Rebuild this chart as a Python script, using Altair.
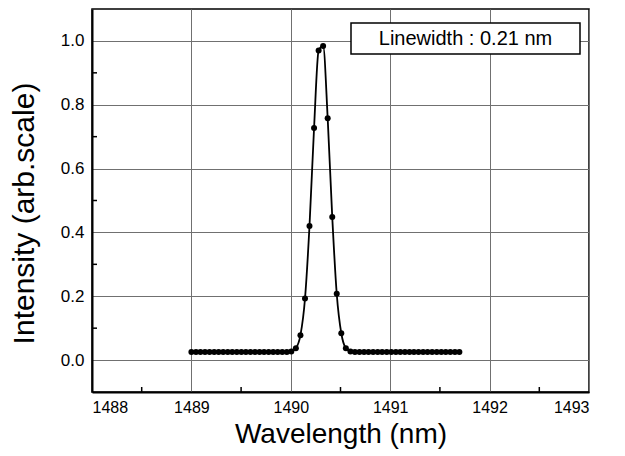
import altair as alt
import pandas as pd

wavelength = [
    1489.000, 1489.046, 1489.091, 1489.137, 1489.183, 1489.229, 1489.274, 1489.320,
    1489.366, 1489.411, 1489.457, 1489.503, 1489.548, 1489.594, 1489.640, 1489.686,
    1489.731, 1489.777, 1489.823, 1489.868, 1489.914, 1489.960, 1490.005, 1490.051,
    1490.097, 1490.143, 1490.188, 1490.234, 1490.280, 1490.325, 1490.371, 1490.417,
    1490.462, 1490.508, 1490.554, 1490.600, 1490.645, 1490.691, 1490.737, 1490.782,
    1490.828, 1490.874, 1490.919, 1490.965, 1491.011, 1491.057, 1491.102, 1491.148,
    1491.194, 1491.239, 1491.285, 1491.331, 1491.376, 1491.422, 1491.468, 1491.514,
    1491.559, 1491.605, 1491.651, 1491.696,
]
intensity = [
    0.025, 0.025, 0.025, 0.025, 0.025, 0.025, 0.025, 0.025,
    0.025, 0.025, 0.025, 0.025, 0.025, 0.025, 0.025, 0.025,
    0.025, 0.025, 0.025, 0.025, 0.025, 0.025, 0.027, 0.037,
    0.078, 0.193, 0.420, 0.727, 0.970, 0.984, 0.758, 0.448,
    0.208, 0.084, 0.037, 0.027, 0.025, 0.025, 0.025, 0.025,
    0.025, 0.025, 0.025, 0.025, 0.025, 0.025, 0.025, 0.025,
    0.025, 0.025, 0.025, 0.025, 0.025, 0.025, 0.025, 0.025,
    0.025, 0.025, 0.025, 0.025,
]
x_ticks = [1488, 1489, 1490, 1491, 1492, 1493]
y_ticks = [0.0, 0.2, 0.4, 0.6, 0.8, 1.0]
x_minor = [1488.5, 1489.5, 1490.5, 1491.5, 1492.5]
y_minor = [0.1, 0.3, 0.5, 0.7, 0.9]
label_text = ["Linewidth : 0.21 nm"]

FONT = "Liberation Sans"

df = pd.DataFrame({"wavelength": wavelength, "intensity": intensity})

xs = alt.Scale(domain=[1488, 1493], nice=False, zero=False)
ys = alt.Scale(domain=[-0.1, 1.1], nice=False, zero=False)

xaxis = alt.Axis(
    values=x_ticks, format="d", title="Wavelength (nm)", grid=True,
    gridColor="#707070", gridWidth=1, ticks=False, domainColor="black",
    domainWidth=2, labelFontSize=16, labelPadding=7, labelColor="black",
    labelFont=FONT, titleFont=FONT, titleFontSize=28, titleFontWeight="normal",
    titleColor="black", titlePadding=5,
)
yaxis = alt.Axis(
    values=y_ticks, format=".1f", title="Intensity (arb.scale)", grid=True,
    gridColor="#707070", gridWidth=1, ticks=False, domainColor="black",
    domainWidth=2, labelFontSize=17, labelPadding=8, labelColor="black",
    labelFont=FONT, titleFont=FONT, titleFontSize=30, titleFontWeight="normal",
    titleColor="black", titlePadding=21, titleY=204,
)

base = alt.Chart(df)
line = base.mark_line(color="black", strokeWidth=1.8, interpolate="monotone").encode(
    x=alt.X("wavelength:Q", scale=xs, axis=xaxis),
    y=alt.Y("intensity:Q", scale=ys, axis=yaxis),
)
points = base.mark_circle(color="black", size=36, opacity=1).encode(
    x=alt.X("wavelength:Q", scale=xs),
    y=alt.Y("intensity:Q", scale=ys),
)

xm = alt.Chart(pd.DataFrame({"wavelength": x_minor})).mark_rule(
    color="black", strokeWidth=1.5
).encode(
    x=alt.X("wavelength:Q", scale=xs),
    y=alt.value(378), y2=alt.value(383),
)
ym = alt.Chart(pd.DataFrame({"intensity": y_minor})).mark_rule(
    color="black", strokeWidth=1.5
).encode(
    y=alt.Y("intensity:Q", scale=ys),
    x=alt.value(0), x2=alt.value(5),
)

lab = pd.DataFrame({"label": label_text})
box = alt.Chart(lab).mark_rect(fill="white", stroke="black", strokeWidth=1.5).encode(
    x=alt.value(259), x2=alt.value(488), y=alt.value(14), y2=alt.value(45)
)
txt = alt.Chart(lab).mark_text(font=FONT, fontSize=20, color="black").encode(
    x=alt.value(373.5), y=alt.value(30), text="label:N"
)

chart = alt.layer(line, points, xm, ym, box, txt).properties(
    width=497, height=383,
    autosize=alt.AutoSizeParams(type="none"),
    padding={"left": 84, "top": 1, "right": 28, "bottom": 62},
    background="white",
).configure_view(stroke="black", strokeWidth=1.5)

chart.save("out.html", embed_options={"renderer": "svg", "actions": False})
